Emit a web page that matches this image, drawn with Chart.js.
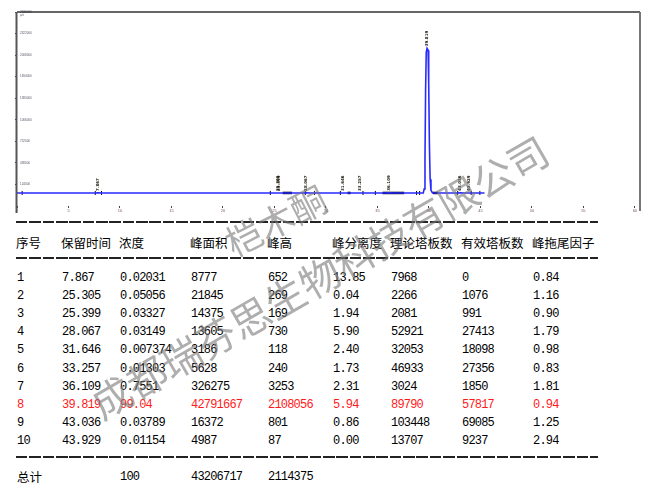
<!DOCTYPE html>
<html>
<head>
<meta charset="utf-8">
<script src="https://cdn.jsdelivr.net/npm/chart.js@4.4.0/dist/chart.umd.min.js"></script>
<style>
    body { margin: 0; background: #fff; }
    #wrap { position: relative; width: 650px; height: 491px; overflow: hidden; background: #fff; }
    #chromChart { position: absolute; left: 0; top: 0; }
    .row { position: absolute; left: 0; width: 650px; height: 18px; line-height: 18px; }
    .cell { position: absolute; top: 0; white-space: nowrap; }
    .head { font-family: "Noto Sans CJK SC", sans-serif; font-size: 12.5px; color: #000; }
    .num { font-family: "Liberation Mono", monospace; font-size: 12px; letter-spacing: -0.8px; color: #000; }
    .cjk { font-family: "Noto Sans CJK SC", sans-serif; font-size: 12.5px; }
    .red .cell { color: #ff1a1a; }
    .dash { position: absolute; left: 16px; width: 582px; height: 2px;
        background: repeating-linear-gradient(to right, #222 0 11.5px, transparent 11.5px 13.35px); }
    .wm { position: absolute; white-space: nowrap; font-family: "Noto Sans CJK SC", sans-serif;
        color: rgba(120,120,120,0.6); pointer-events: none; transform-origin: center center; }
</style>
</head>
<body>
<div id="wrap">
    <canvas id="chromChart" width="650" height="216"></canvas>
    <div id="tableBox"></div>
    <div class="wm" id="wm1" style="left:275px; top:219px; font-size:36px; transform:translate(-50%,-50%) rotate(-27deg);">桤木酮</div>
    <div class="wm" id="wm2" style="left:319px; top:276px; font-size:40px; transform:translate(-50%,-50%) rotate(-30deg);">成都瑞芬思生物科技有限公司</div>
</div>
<script>
// 색층 신호 (min, µV) - 그림에서 읽은 값
const traceTimes  = [0, 7.5, 7.87, 8.3, 24.9, 25.3, 25.4, 25.9, 27.7, 28.07, 28.5, 31.3, 31.65, 32.0, 32.9, 33.26, 33.6,
    35.7, 36.11, 36.6, 39.45, 39.55, 39.62, 39.68, 39.74, 39.82, 39.92, 39.98, 40.05, 40.12, 40.2, 40.35,
    42.7, 43.04, 43.4, 43.7, 43.93, 44.3, 45.4];
const traceSignal = [0, 0, 652, 0, 0, 269, 169, 0, 0, 730, 0, 0, 118, 0, 0, 240, 0,
    0, 3253, 0, 0, 60000, 500000, 1500000, 2050000, 2108056, 2080000, 1600000, 700000, 200000, 40000, 0,
    0, 801, 0, 0, 87, 0, 0];

// 적분 기준선 구간과 피크 경계 표시
const baselineSegments = [[25.8, 26.7], [32.1, 32.4], [35.5, 37.6], [40.4, 40.9]];
const boundaryTimes = [0.5, 7.6, 8.2, 24.6, 28.0, 28.9, 31.4, 33.6, 34.8, 38.8, 39.1, 42.8, 44.1, 44.95];

// 피크 표
const headers    = ["序号", "保留时间", "浓度", "峰面积", "峰高", "峰分离度", "理论塔板数", "有效塔板数", "峰拖尾因子"];
const peakNo     = ["1", "2", "3", "4", "5", "6", "7", "8", "9", "10"];
const retTimes   = ["7.867", "25.305", "25.399", "28.067", "31.646", "33.257", "36.109", "39.819", "43.036", "43.929"];
const concs      = ["0.02031", "0.05056", "0.03327", "0.03149", "0.007374", "0.01303", "0.7551", "99.04", "0.03789", "0.01154"];
const areas      = ["8777", "21845", "14375", "13605", "3186", "5628", "326275", "42791667", "16372", "4987"];
const heights    = ["652", "269", "169", "730", "118", "240", "3253", "2108056", "801", "87"];
const resolution = ["13.85", "0.04", "1.94", "5.90", "2.40", "1.73", "2.31", "5.94", "0.86", "0.00"];
const plates     = ["7968", "2266", "2081", "52921", "32053", "46933", "3024", "89790", "103448", "13707"];
const effPlates  = ["0", "1076", "991", "27413", "18098", "27356", "1850", "57817", "69085", "9237"];
const tailing    = ["0.84", "1.16", "0.90", "1.79", "0.98", "0.83", "1.81", "0.94", "1.25", "2.94"];
const totals     = ["总计", "", "100", "43206717", "2114375"];
const mainPeak = 7;

// 축 눈금
const xTickStep = 5;
const yTickStep = 300000;

// ---------- 표 그리기 ----------
const colLeft = [17, 62, 120, 191, 268, 333, 391, 462, 533];
const box = document.getElementById("tableBox");

function addDash(y) {
    const d = document.createElement("div");
    d.className = "dash";
    d.style.top = (y - 1) + "px";
    box.appendChild(d);
}
function addRow(y, values, cls, extra) {
    const r = document.createElement("div");
    r.className = "row" + (extra ? " " + extra : "");
    r.style.top = (y - 9) + "px";
    values.forEach(function(v, i) {
        const c = document.createElement("span");
        c.className = "cell " + (typeof cls === "function" ? cls(i) : cls);
        c.style.left = (colLeft[i] - (cls === "head" ? 1 : 0)) + "px";
        c.textContent = v;
        r.appendChild(c);
    });
    box.appendChild(r);
}

addDash(222);
addRow(243, headers, "head");
addDash(258);
peakNo.forEach(function(n, i) {
    addRow(278 + i * 18.1, [n, retTimes[i], concs[i], areas[i], heights[i], resolution[i], plates[i], effPlates[i], tailing[i]],
        "num", i === mainPeak ? "red" : "");
});
addDash(457);
addRow(477, totals, function(i) { return i === 0 ? "cjk" : "num"; });

// ---------- 색층도 ----------
const tracePoints = traceTimes.map((t, i) => ({ x: t, y: traceSignal[i] }));
const segDatasets = baselineSegments.map(s => ({
    data: [{ x: s[0], y: 0 }, { x: s[1], y: 0 }],
    borderColor: "#000",
    borderWidth: 2.5,
    pointRadius: 0,
    order: 2
}));

// 피크 위의 보존시간 라벨 (세로)
const peakLabels = {
    id: "peakLabels",
    afterDatasetsDraw(chart) {
        const c = chart.ctx, xs = chart.scales.x, ys = chart.scales.y;
        c.save();
        c.fillStyle = "#1a1408";
        c.font = "bold 4px 'DejaVu Sans'";
        c.textBaseline = "middle";
        retTimes.forEach(function(t, i) {
            const px = xs.getPixelForValue(parseFloat(t));
            const py = ys.getPixelForValue(parseFloat(heights[i])) - 2;
            c.save();
            c.translate(px, py);
            c.rotate(-Math.PI / 2);
            c.fillText(t, 0, 0);
            c.restore();
        });
        c.restore();
    }
};

// 테두리
const frame = {
    id: "frame",
    afterDraw(chart) {
        const c = chart.ctx, a = chart.chartArea;
        c.save();
        c.strokeStyle = "#333";
        c.lineWidth = 1.5;
        c.beginPath();
        c.moveTo(a.left, a.top);
        c.lineTo(a.right, a.top);
        c.stroke();
        c.strokeStyle = "#555";
        c.lineWidth = 2;
        c.beginPath();
        c.moveTo(a.left - 0.5, a.top);
        c.lineTo(a.left - 0.5, a.bottom + 7);
        c.stroke();
        c.strokeStyle = "#777";
        c.beginPath();
        c.moveTo(a.right, a.top);
        c.lineTo(a.right, a.bottom + 5);
        c.stroke();
        c.fillStyle = "#445";
        c.font = "3px 'DejaVu Sans'";
        c.fillText("µV", a.left + 3, a.top + 4);
        c.restore();
    }
};

const ctx = document.getElementById("chromChart").getContext("2d");
new Chart(ctx, {
    type: "line",
    data: {
        datasets: [{
            data: tracePoints,
            borderColor: "#2a2aff",
            borderWidth: 1.6,
            pointRadius: 0,
            tension: 0,
            order: 0
        }, {
            data: boundaryTimes.map(t => ({ x: t, y: 0 })),
            showLine: false,
            pointStyle: "line",
            rotation: 90,
            pointRadius: 2,
            borderColor: "#000",
            borderWidth: 1,
            order: 1
        }].concat(segDatasets)
    },
    options: {
        responsive: false,
        animation: false,
        events: [],
        layout: { padding: { left: 16, right: 10, top: 12, bottom: 0 } },
        plugins: { legend: { display: false }, tooltip: { enabled: false } },
        scales: {
            x: {
                type: "linear",
                min: 0,
                max: 60.5,
                afterFit: s => { s.height = 10; },
                border: { display: false },
                grid: { drawOnChartArea: false, tickLength: 2, color: "#444" },
                ticks: { stepSize: xTickStep, includeBounds: false, maxRotation: 0, padding: 0,
                    font: { size: 4 }, color: "#7a5560" }
            },
            y: {
                min: -190000,
                max: 2636000,
                afterFit: s => { s.width = 1; },
                border: { display: false },
                grid: { drawOnChartArea: false, tickLength: 2, color: "#444" },
                ticks: { stepSize: yTickStep, includeBounds: false, mirror: true, padding: 3,
                    font: { size: 3 }, color: "#556",
                    callback: v => v > 0 ? v : null }
            }
        }
    },
    plugins: [peakLabels, frame]
});
</script>
</body>
</html>
